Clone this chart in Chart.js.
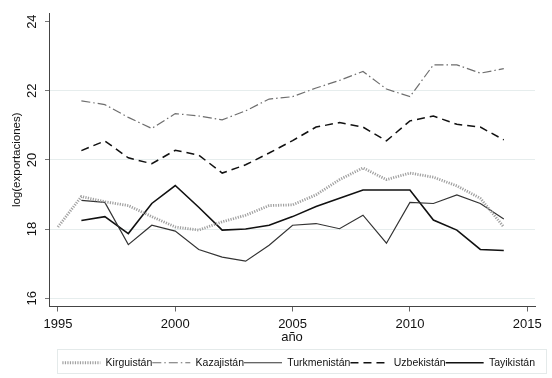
<!DOCTYPE html>
<html>
<head>
<meta charset="utf-8">
<script src="https://cdn.jsdelivr.net/npm/chart.js@4/dist/chart.umd.min.js"></script>
<style>
  html, body { margin: 0; padding: 0; background: #fff; }
  #wrap { width: 552px; height: 378px; }
</style>
</head>
<body>
<div id="wrap"><canvas id="exportsChart" width="552" height="378"></canvas></div>
<script>
const years = [1995, 1996, 1997, 1998, 1999, 2000, 2001, 2002, 2003, 2004,
  2005, 2006, 2007, 2008, 2009, 2010, 2011, 2012, 2013, 2014];

const kirguistan = [18.06, 18.94, 18.79, 18.68, 18.36, 18.06, 17.97, 18.21, 18.40, 18.68,
  18.70, 18.99, 19.43, 19.77, 19.43, 19.62, 19.50, 19.25, 18.89, 18.06];
const kazajistan = [null, 21.71, 21.60, 21.23, 20.91, 21.34, 21.27, 21.16, 21.42, 21.76,
  21.83, 22.08, 22.30, 22.56, 22.05, 21.83, 22.75, 22.75, 22.51, 22.64];
const turkmenistan = [null, 18.83, 18.77, 17.55, 18.11, 17.94, 17.41, 17.19, 17.07, 17.53,
  18.11, 18.16, 18.01, 18.40, 17.59, 18.77, 18.74, 18.99, 18.74, 18.29];
const uzbekistan = [null, 20.27, 20.55, 20.06, 19.89, 20.28, 20.14, 19.62, 19.86, 20.20,
  20.56, 20.95, 21.08, 20.95, 20.55, 21.13, 21.27, 21.03, 20.95, 20.58];
const tayikistan = [null, 18.25, 18.36, 17.87, 18.74, 19.26, 18.63, 17.97, 18.00, 18.11,
  18.36, 18.65, 18.89, 19.13, 19.13, 19.13, 18.26, 17.97, 17.41, 17.38];

const xTicks = [1995, 2000, 2005, 2010, 2015];
const yTicks = [16, 18, 20, 22, 24];

const toPoints = (vals) => years.map((yr, i) => ({ x: yr, y: vals[i] }));
const FONT = "'Liberation Sans', Arial, sans-serif";

// faint frame round the legend, like the Stata one
const legendFrame = {
  id: "legendFrame",
  afterDraw(chart) {
    const lg = chart.legend;
    if (!lg || !lg.legendHitBoxes.length) return;
    const boxes = lg.legendHitBoxes;
    const first = boxes[0];
    const last = boxes[boxes.length - 1];
    const ctx = chart.ctx;
    ctx.save();
    ctx.strokeStyle = "#e4eaea";
    ctx.lineWidth = 1;
    ctx.strokeRect(Math.round(first.left - 5) + 0.5, Math.round(first.top - 9) + 0.5,
      Math.round(last.left + last.width - first.left + 16), 24);
    ctx.restore();
  },
};

new Chart(document.getElementById("exportsChart"), {
  type: "line",
  data: {
    datasets: [
      {
        label: "Kirguistán",
        data: toPoints(kirguistan),
        borderColor: "#a0a0a0",
        borderWidth: 2.8,
        borderDash: [1.2, 1.3],
      },
      {
        label: "Kazajistán",
        data: toPoints(kazajistan),
        borderColor: "#6e6e6e",
        borderWidth: 1.2,
        borderDash: [9, 3, 1.5, 3],
      },
      {
        label: "Turkmenistán",
        data: toPoints(turkmenistan),
        borderColor: "#333",
        borderWidth: 1.2,
      },
      {
        label: "Uzbekistán",
        data: toPoints(uzbekistan),
        borderColor: "#111",
        borderWidth: 1.5,
        borderDash: [8, 5],
      },
      {
        label: "Tayikistán",
        data: toPoints(tayikistan),
        borderColor: "#111",
        borderWidth: 1.6,
      },
    ],
  },
  options: {
    responsive: false,
    animation: false,
    spanGaps: false,
    elements: { point: { radius: 0 }, line: { tension: 0, fill: false } },
    layout: { padding: { top: 13, right: 17, bottom: 0, left: 0 } },
    scales: {
      x: {
        type: "linear",
        min: 1994.62,
        max: 2015.33,
        afterBuildTicks: (s) => { s.ticks = xTicks.map((v) => ({ value: v })); },
        afterFit: (s) => { s.height = 51; },
        ticks: {
          font: { family: FONT, size: 13 },
          color: "#111",
          padding: 5,
          maxRotation: 0,
          callback: (v) => String(v),
        },
        grid: { drawOnChartArea: false, tickLength: 5, tickColor: "#666" },
        border: { color: "#444", width: 1 },
        title: {
          display: true,
          text: "año",
          font: { family: FONT, size: 13 },
          color: "#111",
          padding: { top: 0, bottom: 12 },
        },
      },
      y: {
        min: 15.76,
        max: 24.25,
        afterBuildTicks: (s) => { s.ticks = yTicks.map((v) => ({ value: v })); },
        afterFit: (s) => { s.width = 49; },
        ticks: {
          font: { family: FONT, size: 13 },
          color: "#111",
          padding: 5,
          minRotation: 90,
          maxRotation: 90,
          crossAlign: "center",
          callback: (v) => String(v),
        },
        grid: {
          color: (c) => (c.tick && c.tick.value === 24 ? "rgba(0,0,0,0)" : "#e6eded"),
          tickLength: 4,
          tickColor: "#777",
        },
        border: { color: "#444", width: 1 },
        title: {
          display: true,
          text: "log(exportaciones)",
          font: { family: FONT, size: 11.5 },
          color: "#111",
          padding: { top: 10, bottom: 0 },
        },
      },
    },
    plugins: {
      legend: {
        position: "bottom",
        fullSize: false,
        align: "end",
        labels: {
          usePointStyle: true,
          pointStyle: "line",
          pointStyleWidth: 38,
          boxHeight: 10,
          padding: 0,
          color: "#111",
          font: { family: FONT, size: 10.5 },
          generateLabels: (chart) => {
            const items = Chart.defaults.plugins.legend.labels.generateLabels(chart);
            items.forEach((it) => {
              const ds = chart.data.datasets[it.datasetIndex];
              it.lineDash = ds.borderDash || [];
              it.strokeStyle = ds.borderColor;
              it.lineWidth = ds.borderWidth;
            });
            return items;
          },
        },
      },
      tooltip: { enabled: false },
    },
  },
  plugins: [legendFrame],
});
</script>
</body>
</html>
